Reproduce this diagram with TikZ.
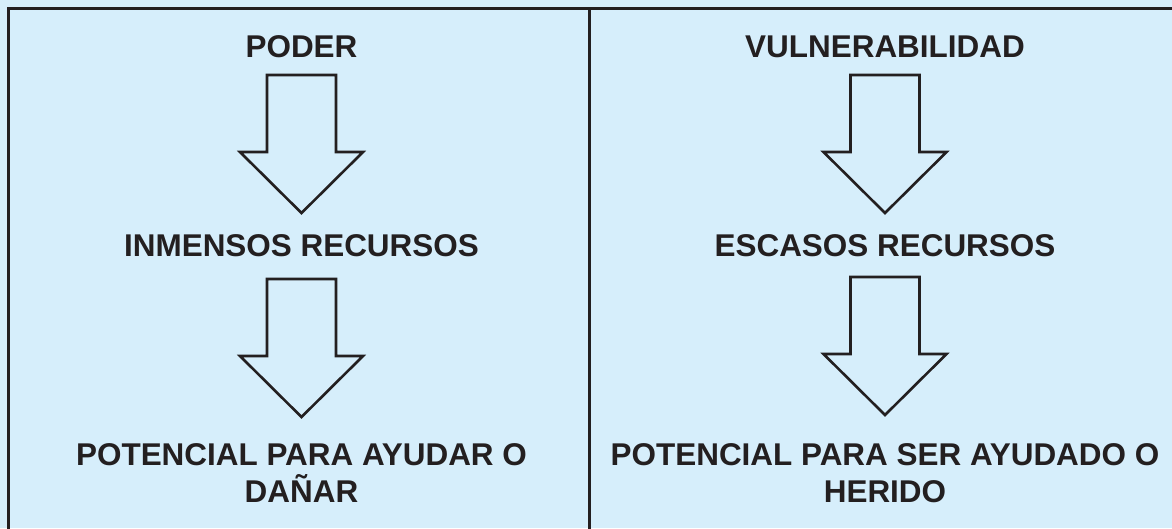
\documentclass[tikz,border=0pt]{standalone}
\usepackage{fontspec}
\setmainfont{Liberation Sans}
\definecolor{bgblue}{HTML}{D6EEFB}
\definecolor{inkdark}{HTML}{231F20}
\begin{document}
\begin{tikzpicture}[
        x=0.02cm, y=-0.02cm,
        heading/.style={font={\fontsize{17.9pt}{20.9pt}\selectfont\bfseries}, text=inkdark, inner sep=0pt, align=center},
        frame/.style={draw=inkdark, line width=0.06cm},
        arrowline/.style={draw=inkdark, line width=0.052cm, fill=bgblue},
        hollowarrow/.pic={
            \draw[arrowline] (-34.5,0) -- (34.5,0) -- (34.5,77) -- (61.5,77)
                -- (0,138) -- (-61.5,77) -- (-34.5,77) -- cycle;
        }
    ]
        % Hintergrund
        \useasboundingbox (0,0) rectangle (1172,528);
        \fill[bgblue] (0,0) rectangle (1172,528);

        % Rahmen und Trennlinie
        \begin{scope}
            \clip (0,0) rectangle (1172,528);
            \draw[frame] (8.7,8.7) rectangle (1180,540);
            \draw[frame] (589.5,8.7) -- (589.5,540);
        \end{scope}

        % Linke Spalte
        \node[heading] (poder) at (301.5,46.5) {PODER};
        \node[heading] (inmensos) at (301.5,246) {INMENSOS RECURSOS};
        \node[heading, anchor=north] (potencialA) at (301.5,443) {POTENCIAL PARA AYUDAR O\\DAÑAR};

        % Rechte Spalte
        \node[heading] (vulnerabilidad) at (885,46.5) {VULNERABILIDAD};
        \node[heading] (escasos) at (885,246) {ESCASOS RECURSOS};
        \node[heading, anchor=north] (potencialB) at (885,443) {POTENCIAL PARA SER AYUDADO O\\HERIDO};

        % Pfeile
        \foreach \x/\y in {301.5/75, 301.5/279, 885/75, 885/277}
            \pic at (\x,\y) {hollowarrow};

    \end{tikzpicture}
\end{document}
